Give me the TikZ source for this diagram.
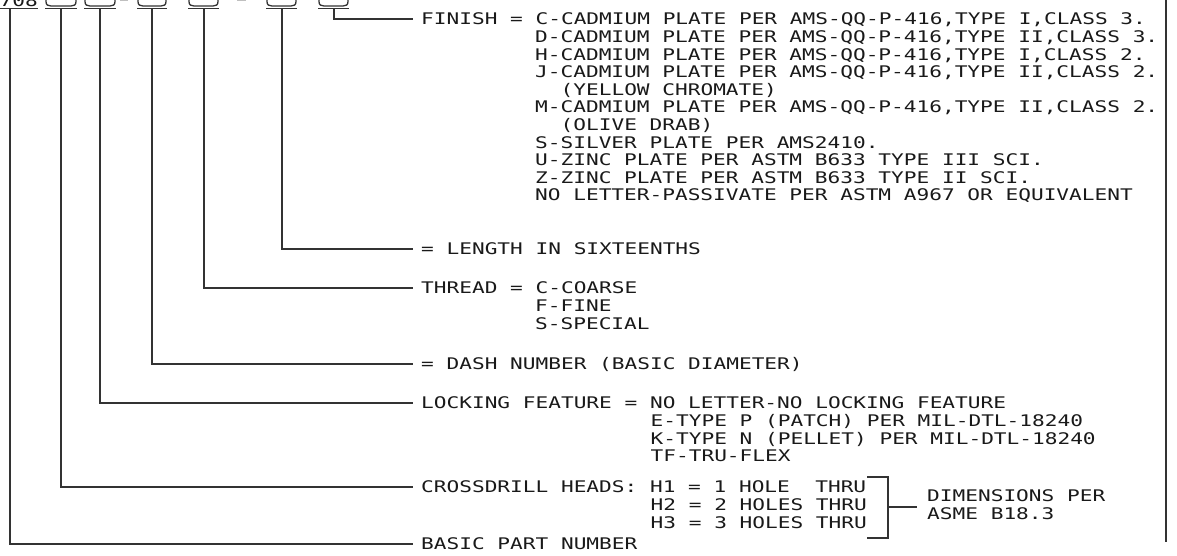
\documentclass[tikz,border=0pt]{standalone}
\usepackage{fontspec}
\newfontfamily\cadfont{DejaVu Sans Mono}[FakeStretch=1.32]
\newcommand\cadtab[2]{%
  \draw[lead] ({#1+1},-1) -- ({#1+1},1.5) .. controls ({#1+1},5) and ({#1+3},6) .. ({#1+6},6)
     -- ({#2-6},6) .. controls ({#2-3},6) and ({#2-1},5) .. ({#2-1},1.5) -- ({#2-1},-1);
  \draw[lead] (#1,8.5) -- (#2,8.5);}
\begin{document}
\begin{tikzpicture}[x=1pt,y=-1pt,
  lead/.style={draw=black!80, line width=1.3pt},
  txt/.style={font=\cadfont\fontsize{16}{17.6}\selectfont, inner sep=0pt, anchor=west,
              text height=11.7pt, text depth=0pt, text=black!90}]
\useasboundingbox (0,0) rectangle (1177,556);
\clip (0,0) rectangle (1177,556);

% ---- part-number callout along the top
\node[txt, anchor=base east] (pn) at (38,6.5) {708};
\draw[lead] (0,8.5) -- (38,8.5);
\cadtab{45}{77}
\cadtab{84}{116}
\cadtab{137}{167}
\cadtab{188}{219}
\cadtab{266}{297}
\cadtab{318}{349}
\draw[black!25, line width=1pt] (120,0.4) -- (128,0.4);
\draw[black!25, line width=1pt] (237,0.4) -- (246,0.4);

\coordinate (b0) at (10,8.5);
\coordinate (b1) at (61,8.5);
\coordinate (b2) at (100,8.5);
\coordinate (b3) at (152,8.5);
\coordinate (b4) at (204,8.5);
\coordinate (b5) at (282,8.5);
\coordinate (b6) at (334,8.5);

% ---- right frame line
\draw[lead] (1166,-1) -- (1166,542);

% ---- FINISH
\node[txt] (finish) at (421,19) {FINISH = C-CADMIUM PLATE PER AMS-QQ-P-416,TYPE I,CLASS 3.};
\node[txt] (f1) at (535,36.6) {D-CADMIUM PLATE PER AMS-QQ-P-416,TYPE II,CLASS 3.};
\node[txt] (f2) at (535,54.2) {H-CADMIUM PLATE PER AMS-QQ-P-416,TYPE I,CLASS 2.};
\node[txt] (f3) at (535,71.8) {J-CADMIUM PLATE PER AMS-QQ-P-416,TYPE II,CLASS 2.};
\node[txt] (f4) at (560.5,89.4) {(YELLOW CHROMATE)};
\node[txt] (f5) at (535,107) {M-CADMIUM PLATE PER AMS-QQ-P-416,TYPE II,CLASS 2.};
\node[txt] (f6) at (560.5,124.6) {(OLIVE DRAB)};
\node[txt] (f7) at (535,142.2) {S-SILVER PLATE PER AMS2410.};
\node[txt] (f8) at (535,159.8) {U-ZINC PLATE PER ASTM B633 TYPE III SCI.};
\node[txt] (f9) at (535,177.4) {Z-ZINC PLATE PER ASTM B633 TYPE II SCI.};
\node[txt] (f10) at (535,195) {NO LETTER-PASSIVATE PER ASTM A967 OR EQUIVALENT};

% ---- LENGTH
\node[txt] (length) at (421,249) {= LENGTH IN SIXTEENTHS};

% ---- THREAD
\node[txt] (thread) at (421,288) {THREAD = C-COARSE};
\node[txt] (t1) at (535,305.6) {F-FINE};
\node[txt] (t2) at (535,323.2) {S-SPECIAL};

% ---- DASH
\node[txt] (dash) at (421,364) {= DASH NUMBER (BASIC DIAMETER)};

% ---- LOCKING
\node[txt] (lock) at (421,403) {LOCKING FEATURE = NO LETTER-NO LOCKING FEATURE};
\node[txt] (l1) at (650.5,420.6) {E-TYPE P (PATCH) PER MIL-DTL-18240};
\node[txt] (l2) at (650.5,438.2) {K-TYPE N (PELLET) PER MIL-DTL-18240};
\node[txt] (l3) at (650.5,455.8) {TF-TRU-FLEX};

% ---- CROSSDRILL
\node[txt] (cross) at (421,487) {CROSSDRILL HEADS: H1 = 1 HOLE\ \ THRU};
\node[txt] (c1) at (650.5,504.6) {H2 = 2 HOLES THRU};
\node[txt] (c2) at (650.5,522.2) {H3 = 3 HOLES THRU};
\node[txt] (dim1) at (927,496) {DIMENSIONS PER};
\node[txt] (dim2) at (927,513.6) {ASME B18.3};
\coordinate (brk) at (888,507);
\coordinate (brkend) at (917,507);
\draw[lead] (867,477) -- (888,477) -- (888,538) -- (867,538);
\draw[lead] (brk) -- (brkend);

% ---- BASIC PART NUMBER
\node[txt] (basic) at (421,544) {BASIC PART NUMBER};

% ---- leaders
\draw[lead] (b6) |- ([xshift=-8pt]finish.west);
\draw[lead] (b5) |- ([xshift=-8pt]length.west);
\draw[lead] (b4) |- ([xshift=-8pt]thread.west);
\draw[lead] (b3) |- ([xshift=-8pt]dash.west);
\draw[lead] (b2) |- ([xshift=-8pt]lock.west);
\draw[lead] (b1) |- ([xshift=-8pt]cross.west);
\draw[lead] (b0) |- ([xshift=-8pt]basic.west);
\end{tikzpicture}
\end{document}
